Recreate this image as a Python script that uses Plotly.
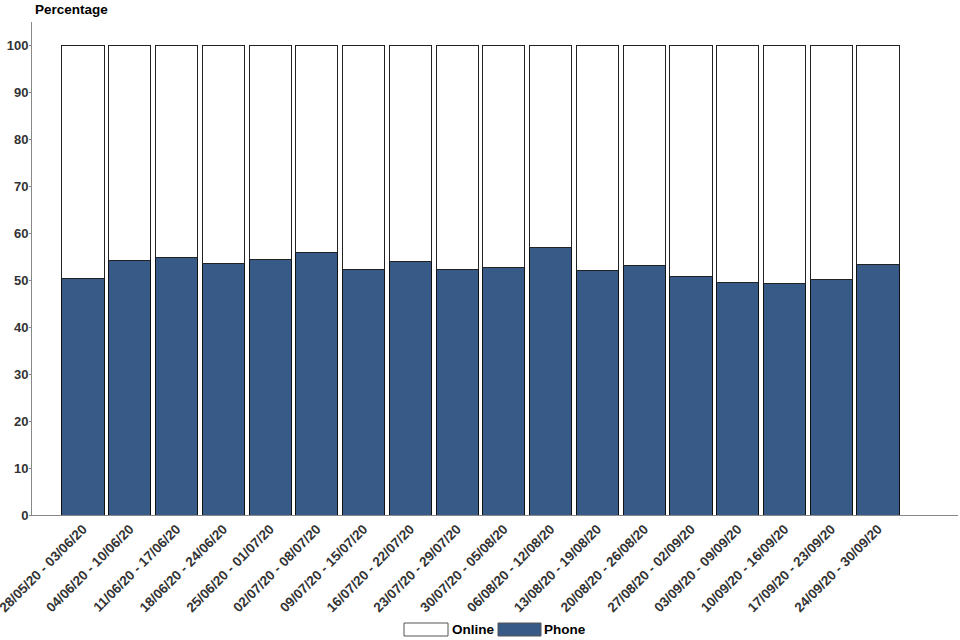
import plotly.graph_objects as go

weeks = [
    "28/05/20 - 03/06/20", "04/06/20 - 10/06/20", "11/06/20 - 17/06/20",
    "18/06/20 - 24/06/20", "25/06/20 - 01/07/20", "02/07/20 - 08/07/20",
    "09/07/20 - 15/07/20", "16/07/20 - 22/07/20", "23/07/20 - 29/07/20",
    "30/07/20 - 05/08/20", "06/08/20 - 12/08/20", "13/08/20 - 19/08/20",
    "20/08/20 - 26/08/20", "27/08/20 - 02/09/20", "03/09/20 - 09/09/20",
    "10/09/20 - 16/09/20", "17/09/20 - 23/09/20", "24/09/20 - 30/09/20",
]
phone = [50.4, 54.3, 55.0, 53.6, 54.5, 56.0, 52.4, 54.1, 52.4,
         52.8, 57.1, 52.2, 53.2, 50.9, 49.6, 49.4, 50.1, 53.3]
online = [round(100 - p, 1) for p in phone]

PHONE_COLOR = "#375a87"
FONT = "Liberation Sans, Arial, sans-serif"

fig = go.Figure()
fig.add_trace(go.Bar(
    x=weeks, y=phone, name="Phone",
    marker=dict(color=PHONE_COLOR, line=dict(color="#111111", width=1)),
))
fig.add_trace(go.Bar(
    x=weeks, y=online, name="Online",
    marker=dict(color="#ffffff", line=dict(color="#222222", width=1)),
))

fig.update_layout(
    width=960, height=640,
    barmode="stack", bargap=0.1,
    showlegend=False,
    paper_bgcolor="white", plot_bgcolor="white",
    margin=dict(l=32, r=2, t=22, b=125, autoexpand=False),
    font=dict(family=FONT, size=13, color="#333333"),
)
fig.update_xaxes(
    type="category", automargin=False,
    range=[-1.09, 18.71],
    showline=True, linecolor="#888888", linewidth=1,
    showgrid=False, zeroline=False, ticks="",
    tickangle=-45,
    tickfont=dict(family=FONT, size=13.5, color="#333333", weight="bold"),
)
fig.update_yaxes(
    automargin=False,
    range=[0, 105.1],
    tickvals=[0, 10, 20, 30, 40, 50, 60, 70, 80, 90, 100],
    showline=True, linecolor="#888888", linewidth=1,
    showgrid=False, zeroline=False,
    ticks="outside", ticklen=2, tickcolor="#888888",
    ticklabelstandoff=-2,
    tickfont=dict(family=FONT, size=13, color="#333333", weight="bold"),
)

fig.add_annotation(
    text="<b>Percentage</b>", xref="paper", yref="paper",
    x=0.001, y=1.0, yshift=22, xanchor="left", yanchor="top", showarrow=False,
    font=dict(family=FONT, size=13.5, color="#000000"),
)

# custom legend (wide swatches)
def px_x(px):
    return (px - 32) / 926.0

def px_y(py):
    return (515 - py) / 493.0

fig.add_shape(type="rect", xref="paper", yref="paper",
              x0=px_x(404), x1=px_x(448), y0=px_y(636), y1=px_y(623),
              fillcolor="#ffffff", line=dict(color="#555555", width=1))
fig.add_annotation(text="<b>Online</b>", xref="paper", yref="paper",
                   x=px_x(450), y=px_y(629.5), xanchor="left", yanchor="middle",
                   showarrow=False, font=dict(family=FONT, size=13.5, color="#000000"))
fig.add_shape(type="rect", xref="paper", yref="paper",
              x0=px_x(498), x1=px_x(541), y0=px_y(636), y1=px_y(623),
              fillcolor=PHONE_COLOR, line=dict(color="#555555", width=1))
fig.add_annotation(text="<b>Phone</b>", xref="paper", yref="paper",
                   x=px_x(542), y=px_y(629.5), xanchor="left", yanchor="middle",
                   showarrow=False, font=dict(family=FONT, size=13.5, color="#000000"))

fig.write_html("out.html",
               config={"displayModeBar": False},
               post_script="document.body.style.margin='0';document.body.style.overflow='hidden';")
